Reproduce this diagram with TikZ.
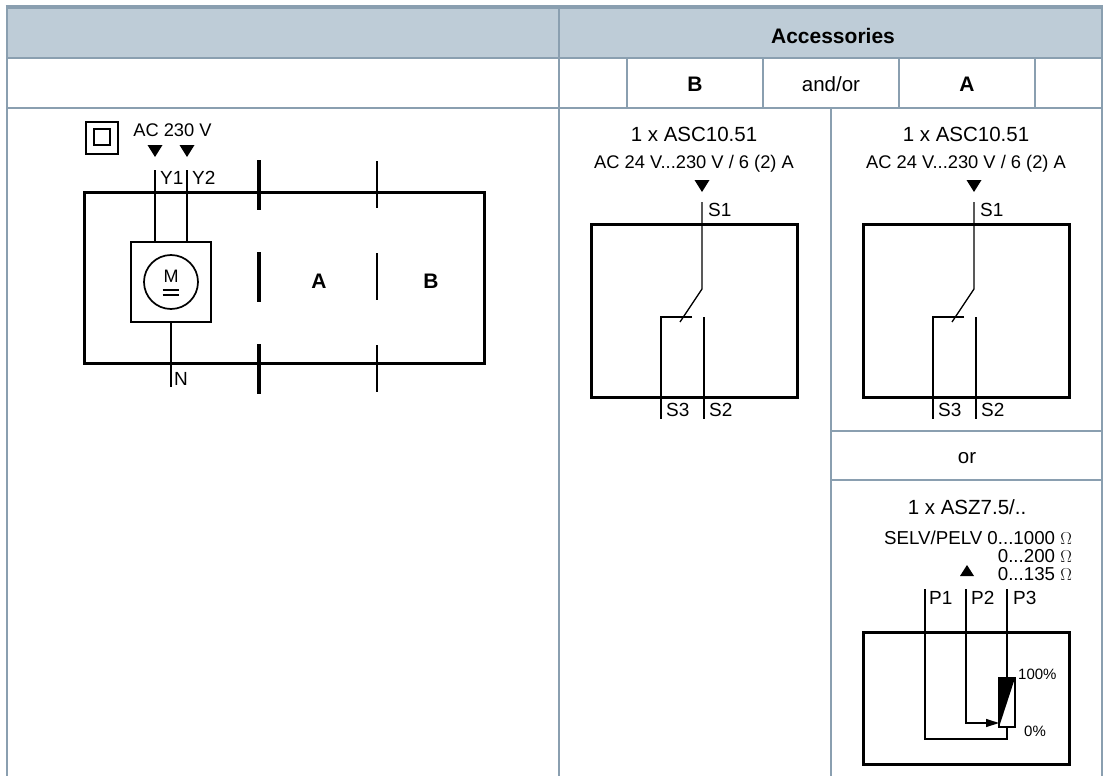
\documentclass[tikz,border=0pt]{standalone}
\usepackage{fontspec}
\setmainfont{Liberation Sans}
\usepackage{xcolor}
\usetikzlibrary{arrows.meta}
\definecolor{headfill}{HTML}{BECCD7}
\definecolor{gridline}{HTML}{8A9FB0}
\tikzset{
grid/.style={draw=gridline,line width=1.5pt},
frame/.style={draw=black,line width=3pt,line cap=round,line join=miter},
wire/.style={draw=black,line width=1.3pt},
pin/.style={anchor=west,inner sep=0pt,font=\fontsize{19}{20}\selectfont},
big/.style={inner sep=0pt,font=\fontsize{20.5}{22}\selectfont},
mid/.style={inner sep=0pt,font=\fontsize{18.3}{20}\selectfont},
ohm/.style={anchor=east,inner sep=0pt,font=\fontsize{18.7}{20}\selectfont},
small/.style={anchor=west,inner sep=0pt,font=\fontsize{15}{16}\selectfont},
bold/.style={inner sep=0pt,font=\fontsize{21}{22}\selectfont\bfseries},
}
\begin{document}
\begin{tikzpicture}[x=1pt,y=-1pt]
\useasboundingbox (0,0) rectangle (1104,776);
\fill[headfill] (7,7)rectangle(1102,58);
\draw[gridline,line width=4pt](5.5,7)--(1102.5,7);
\draw[grid](7,7)--(7,776);
\draw[grid](1102,7)--(1102,776);
\draw[grid](559,7)--(559,776);
\draw[grid](7,58)--(1102,58);
\draw[grid](7,108)--(1102,108);
\foreach \x in {627,763,899,1035}{
\draw[grid](\x,58)--(\x,108);}
\draw[grid](831,108)--(831,776);
\draw[grid](831,431)--(1102,431);
\draw[grid](831,480)--(1102,480);
\node (acc) at (833,36) [bold]{Accessories};
\node (hb) at (695,84) [bold]{B};
\node (andor) at (831,84) [big]{and/or};
\node (ha) at (967,84) [bold]{A};
\node (orlab) at (967,458) [big]{or};
% left device
\draw[line width=1.5pt](86,122)rectangle(118,154);
\draw[line width=2pt](93.5,129)rectangle(109.5,145);
\node (supply) at (172.5,130) [mid]{AC 230 V};
\foreach \x in {155,187}{
\fill (\x-7.5,145)--(\x+7.5,145)--(\x,157)--cycle;
\draw[wire](\x,170)--(\x,242);}
\node (y1) at (160,178) [pin]{Y1};
\node (y2) at (192,178) [pin]{Y2};
\draw[frame](84,192)rectangle(484,363);
\foreach \y in {160,252,344}{
\draw[line width=3.5pt](259,\y)--(259,\y+50);}
\foreach \y in {161,253,345}{
\draw[line width=1.5pt](377,\y)--(377,\y+47);}
\draw[line width=2pt](131,242)rectangle(211,322);
\node (motor) at (171,282) [circle,draw,line width=1.7pt,minimum size=54pt,inner sep=0pt]{};
\node (mlab) at (171,276.5) [inner sep=0pt,font=\fontsize{18}{20}\selectfont]{M};
\draw[line width=1.3pt](162.5,290)--(178.5,290);
\draw[line width=1.3pt](162.5,295)--(178.5,295);
\draw[wire](171,322)--(171,387);
\node (n) at (174,379) [pin]{N};
\node (a) at (319,281) [bold]{A};
\node (b) at (431,281) [bold]{B};
% switches
\foreach \s/\n in {0/l,272/r}{
\begin{scope}[xshift=\s pt]
\node (type\n) at (694,134) [big]{1 x ASC10.51};
\node (rate\n) at (694,164) [mid]{AC 24 V...230 V / 6 (2) A};
\fill (702-7.5,180)--(702+7.5,180)--(702,192)--cycle;
\draw[frame](591,224)rectangle(797,397);
\draw[wire](702,202)--(702,289)--(680,322);
\draw[wire](692,317)--(661,317)--(661,419);
\draw[wire](704,317)--(704,419);
\node (s1\n) at (708,210) [pin]{S1};
\node (s3\n) at (666,410) [pin]{S3};
\node (s2\n) at (709,410) [pin]{S2};
\end{scope}}
% potentiometer
\node (asz) at (967,507) [big]{1 x ASZ7.5/..};
\node (ohma) at (1072,538) [ohm]{SELV/PELV 0...1000 $\Omega$};
\node (ohmb) at (1072,556) [ohm]{0...200 $\Omega$};
\node (ohmc) at (1072,574) [ohm]{0...135 $\Omega$};
\fill (967-7,576)--(967+7,576)--(967,565)--cycle;
\draw[frame](863,632)rectangle(1069,764);
\draw[wire](925,589)--(925,739)--(1007,739)--(1007,727);
\draw[wire](1007,589)--(1007,678);
\draw[wire,-{Stealth[length=13pt,width=8pt,inset=0pt]}](966,589)--(966,723)--(999,723);
\fill (999,678)--(1015,678)--(999,727)--cycle;
\draw[line width=2.3pt](999,678)rectangle(1015,727);
\node (p1) at (929,598) [pin]{P1};
\node (p2) at (971,598) [pin]{P2};
\node (p3) at (1013,598) [pin]{P3};
\node (top) at (1018,674) [small]{100\%};
\node (bot) at (1024,731) [small]{0\%};
\end{tikzpicture}
\end{document}
